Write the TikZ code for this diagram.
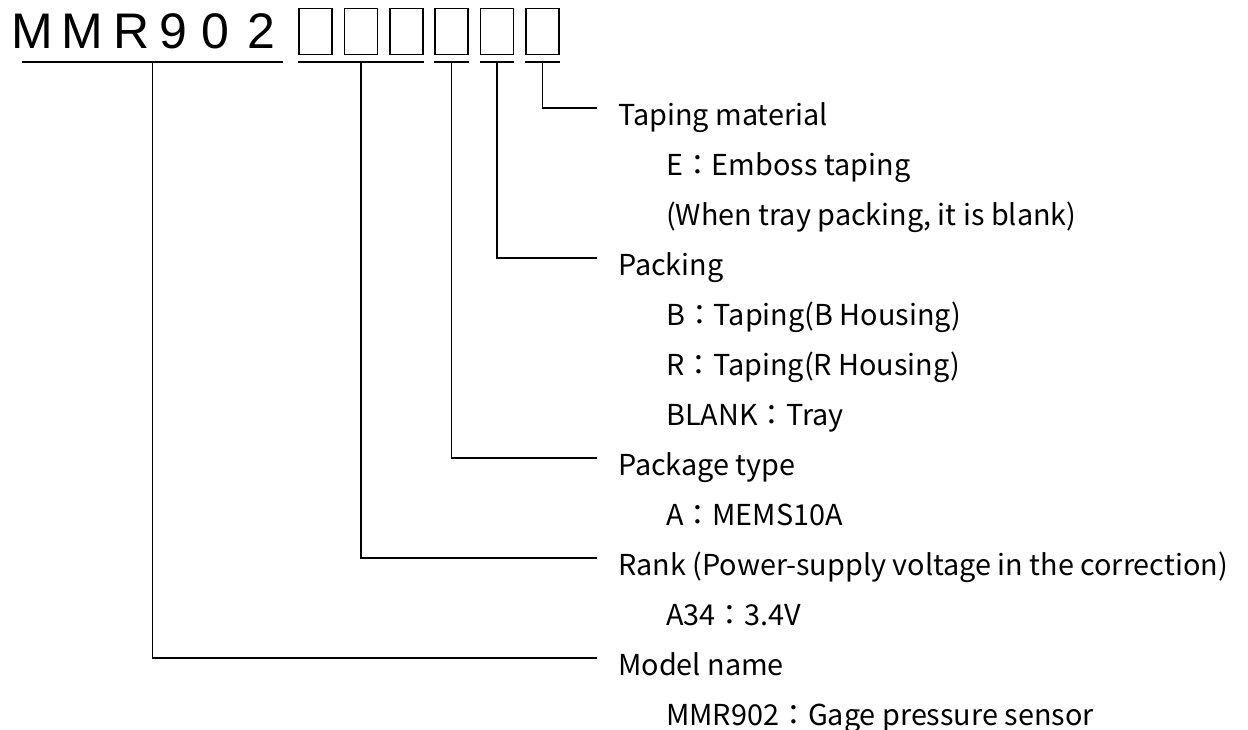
\documentclass[tikz,border=0pt]{standalone}
\usepackage{fontspec}
\setmainfont{Noto Sans CJK JP}
\newfontfamily\codefont{Liberation Sans}
\usetikzlibrary{calc}
\tikzset{
  code char/.style={font=\codefont\fontsize{50}{50}\selectfont, inner sep=0pt, anchor=base},
  char box/.style={draw, line width=1.6pt, minimum width=33pt, minimum height=46pt, inner sep=0pt},
  under line/.style={line width=2.2pt, black},
  lead line/.style={line width=1.6pt, black},
  item label/.style={font=\fontsize{28.8}{34}\selectfont, inner sep=0pt, anchor=base west},
}

\begin{document}
\begin{tikzpicture}[x=1pt, y=-1pt]
  \useasboundingbox (0,0) rectangle (1248,729);
  % part number and its open fields
  \foreach \ch/\cx [count=\k] in {M/32, M/82, R/132, 9/173, 0/215, 2/261}
    \node[code char] (c\k) at (\cx,48) {\ch};
  \foreach \k in {1,...,6}
    \node[char box] (b\k) at ({270+45.4*\k},31.5) {};
  % underlines
  \coordinate (m1) at (22,62);
  \coordinate (m2) at (283,62);
  \coordinate (r1) at ($(b1.south west)+(0,7)$);
  \coordinate (r2) at ($(b3.south east)+(0,7)$);
  \draw[under line] (m1) -- (m2);
  \draw[under line] (r1) -- (r2);
  \foreach \k in {4,5,6}
    \draw[under line] ($(b\k.south west)+(0,7)$) -- ($(b\k.south east)+(0,7)$);
  % descriptions
  \foreach \txt/\lx [count=\r from 0] in {
      {Taping material}/618,
      {E：Emboss taping}/666,
      {(When tray packing, it is blank)}/666,
      {Packing}/618,
      {B：Taping(B Housing)}/666,
      {R：Taping(R Housing)}/666,
      {BLANK：Tray}/666,
      {Package type}/618,
      {A：MEMS10A}/666,
      {Rank (Power-supply voltage in the correction)}/618,
      {A34：3.4V}/666,
      {Model name}/618,
      {MMR902：Gage pressure sensor}/666}
    \node[item label] (l\r) at (\lx,{125+50*\r}) {\txt};
  % leaders
  \draw[lead line] ($(b6.south)+(0,7)$) |- ($(l0.base west)+(-21,-17)$);
  \draw[lead line] ($(b5.south)+(0,7)$) |- ($(l3.base west)+(-21,-17)$);
  \draw[lead line] ($(b4.south)+(0,7)$) |- ($(l7.base west)+(-21,-17)$);
  \draw[lead line] ($(r1)!0.5!(r2)$) |- ($(l9.base west)+(-21,-17)$);
  \draw[lead line] ($(m1)!0.5!(m2)$) |- ($(l11.base west)+(-21,-17)$);
\end{tikzpicture}
\end{document}
